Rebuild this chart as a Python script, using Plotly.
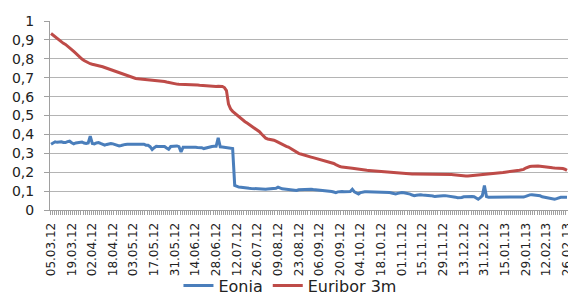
import pandas as pd
import plotly.graph_objects as go

# TARGET business days from 05.03.2012 (categories)
holidays = ["2012-04-06", "2012-04-09", "2012-05-01", "2012-12-25", "2012-12-26", "2013-01-01"]
days = [d for d in pd.bdate_range("2012-03-05", "2013-03-01") if d.strftime("%Y-%m-%d") not in holidays]
dates = [d.strftime("%d.%m.%y") for d in days][:251]

tick_labels = ["05.03.12", "19.03.12", "02.04.12", "18.04.12", "03.05.12", "17.05.12", "31.05.12",
               "14.06.12", "28.06.12", "12.07.12", "26.07.12", "09.08.12", "23.08.12", "06.09.12",
               "20.09.12", "04.10.12", "18.10.12", "01.11.12", "15.11.12", "29.11.12", "13.12.12",
               "31.12.12", "15.01.13", "29.01.13", "12.02.13", "26.02.13"]

eonia = [
    0.348, 0.355, 0.361, 0.358, 0.360, 0.361, 0.357, 0.357, 0.362, 0.364,
    0.356, 0.350, 0.355, 0.358, 0.361, 0.360, 0.354, 0.352, 0.355, 0.391,
    0.352, 0.350, 0.355, 0.357, 0.352, 0.348, 0.343, 0.347, 0.350, 0.352,
    0.350, 0.347, 0.343, 0.339, 0.341, 0.345, 0.347, 0.348, 0.348, 0.347,
    0.348, 0.349, 0.347, 0.349, 0.348, 0.348, 0.343, 0.343, 0.335, 0.320,
    0.330, 0.337, 0.336, 0.337, 0.335, 0.336, 0.328, 0.321, 0.336, 0.337,
    0.338, 0.339, 0.335, 0.307, 0.332, 0.333, 0.332, 0.332, 0.332, 0.333,
    0.332, 0.331, 0.332, 0.330, 0.325, 0.328, 0.333, 0.336, 0.336, 0.337,
    0.337, 0.382, 0.334, 0.333, 0.332, 0.332, 0.331, 0.328, 0.325, 0.130,
    0.125, 0.121, 0.120, 0.118, 0.117, 0.116, 0.115, 0.114, 0.113, 0.112,
    0.112, 0.111, 0.110, 0.110, 0.110, 0.111, 0.112, 0.112, 0.112, 0.115,
    0.121, 0.116, 0.112, 0.111, 0.110, 0.109, 0.108, 0.106, 0.104, 0.103,
    0.107, 0.108, 0.109, 0.110, 0.111, 0.112, 0.110, 0.108, 0.107, 0.106,
    0.106, 0.105, 0.104, 0.103, 0.103, 0.102, 0.098, 0.095, 0.092, 0.096,
    0.099, 0.098, 0.097, 0.097, 0.097, 0.098, 0.110, 0.096, 0.090, 0.085,
    0.092, 0.096, 0.096, 0.096, 0.096, 0.096, 0.096, 0.096, 0.096, 0.096,
    0.095, 0.094, 0.093, 0.092, 0.092, 0.090, 0.088, 0.085, 0.088, 0.092,
    0.092, 0.091, 0.090, 0.089, 0.084, 0.079, 0.076, 0.078, 0.081, 0.080,
    0.079, 0.079, 0.078, 0.078, 0.076, 0.074, 0.071, 0.073, 0.075, 0.076,
    0.076, 0.076, 0.075, 0.074, 0.073, 0.071, 0.068, 0.065, 0.064, 0.066,
    0.070, 0.071, 0.071, 0.071, 0.071, 0.070, 0.062, 0.057, 0.065, 0.076,
    0.129, 0.071, 0.068, 0.068, 0.067, 0.067, 0.068, 0.068, 0.069, 0.069,
    0.069, 0.069, 0.070, 0.070, 0.070, 0.070, 0.070, 0.069, 0.068, 0.069,
    0.072, 0.077, 0.080, 0.081, 0.080, 0.078, 0.076, 0.075, 0.070, 0.068,
    0.067, 0.066, 0.062, 0.058, 0.057, 0.060, 0.065, 0.067, 0.067, 0.066, 0.067,
]

euribor_3m = [
    0.934, 0.925, 0.916, 0.906, 0.897, 0.889, 0.882, 0.876, 0.868, 0.859,
    0.849, 0.839, 0.828, 0.817, 0.806, 0.799, 0.791, 0.784, 0.779, 0.774,
    0.771, 0.769, 0.767, 0.764, 0.761, 0.758, 0.754, 0.750, 0.746, 0.742,
    0.738, 0.734, 0.730, 0.726, 0.722, 0.719, 0.714, 0.709, 0.704, 0.700,
    0.698, 0.696, 0.695, 0.694, 0.693, 0.693, 0.692, 0.691, 0.690, 0.689,
    0.688, 0.687, 0.686, 0.684, 0.682, 0.680, 0.677, 0.674, 0.671, 0.668,
    0.667, 0.666, 0.665, 0.665, 0.664, 0.664, 0.664, 0.663, 0.663, 0.663,
    0.662, 0.661, 0.660, 0.659, 0.658, 0.657, 0.656, 0.655, 0.655, 0.655,
    0.654, 0.655, 0.656, 0.654, 0.648, 0.632, 0.560, 0.535, 0.522, 0.512,
    0.503, 0.495, 0.486, 0.476, 0.467, 0.460, 0.453, 0.446, 0.438, 0.430,
    0.423, 0.414, 0.402, 0.390, 0.380, 0.376, 0.374, 0.372, 0.369, 0.364,
    0.358, 0.352, 0.346, 0.341, 0.337, 0.333, 0.326, 0.318, 0.310, 0.303,
    0.300, 0.296, 0.292, 0.289, 0.286, 0.283, 0.280, 0.277, 0.274, 0.271,
    0.269, 0.266, 0.263, 0.260, 0.257, 0.254, 0.251, 0.246, 0.240, 0.234,
    0.230, 0.227, 0.225, 0.224, 0.223, 0.222, 0.221, 0.219, 0.217, 0.215,
    0.214, 0.213, 0.211, 0.210, 0.209, 0.208, 0.207, 0.206, 0.205, 0.205,
    0.204, 0.203, 0.202, 0.201, 0.200, 0.199, 0.197, 0.196, 0.195, 0.194,
    0.194, 0.193, 0.193, 0.192, 0.192, 0.191, 0.191, 0.191, 0.190, 0.190,
    0.190, 0.190, 0.189, 0.189, 0.189, 0.189, 0.190, 0.190, 0.191, 0.191,
    0.191, 0.191, 0.190, 0.189, 0.188, 0.187, 0.186, 0.184, 0.181, 0.179,
    0.180, 0.180, 0.180, 0.181, 0.181, 0.182, 0.182, 0.183, 0.184, 0.185,
    0.186, 0.186, 0.187, 0.188, 0.189, 0.191, 0.193, 0.195, 0.196, 0.198,
    0.200, 0.202, 0.204, 0.206, 0.207, 0.208, 0.209, 0.210, 0.211, 0.215,
    0.222, 0.227, 0.230, 0.232, 0.233, 0.233, 0.233, 0.232, 0.230, 0.228,
    0.226, 0.225, 0.224, 0.223, 0.222, 0.222, 0.221, 0.220, 0.219, 0.216, 0.210,
]

title_text = "Денежен пазар в ЕС (%)"

n = len(dates)
xidx = list(range(n))
tickvals = [dates.index(t) for t in tick_labels if t in dates]
ticktext = [t for t in tick_labels if t in dates]

fig = go.Figure()
fig.add_trace(go.Scatter(x=xidx, y=eonia[:n], mode="lines", name="Eonia",
                         line=dict(color="#4a7ebb", width=3), customdata=dates))
fig.add_trace(go.Scatter(x=xidx, y=euribor_3m[:n], mode="lines", name="Euribor 3m",
                         line=dict(color="#be4b48", width=3), customdata=dates))

grid = "#b4b4b4"
fig.update_layout(
    width=568, height=303,
    margin=dict(l=50, r=0, t=21, b=93, autoexpand=False),
    paper_bgcolor="white", plot_bgcolor="white",
    separators=", ",
    font=dict(family="DejaVu Sans", color="#222"),
    showlegend=True,
    legend=dict(orientation="h", x=0.248, xanchor="left", y=-0.31, yanchor="top",
                font=dict(size=16, family="DejaVu Sans", color="#222"),
                bgcolor="rgba(0,0,0,0)", tracegroupgap=0),
    annotations=[dict(text="<b>" + title_text + "</b>", xref="paper", yref="paper",
                      x=0.458, y=1.105, xanchor="center", yanchor="bottom", showarrow=False,
                      font=dict(size=16, family="DejaVu Sans", color="#000"))],
)
fig.update_xaxes(
    range=[-0.5, n - 0.5], tickmode="array", tickvals=tickvals, ticktext=ticktext,
    tickangle=-90, tickfont=dict(size=12, family="DejaVu Sans", color="#222"),
    showline=True, linecolor="#a0a0a0", linewidth=1, showgrid=False, zeroline=False,
    ticks="", ticklabelstandoff=7, ticklabeloverflow="allow", automargin=False,
    minor=dict(ticks="outside", ticklen=4, tickcolor="#a0a0a0", tickmode="linear",
               tick0=0.5, dtick=1, showgrid=False),
)
fig.update_yaxes(
    range=[0, 1], dtick=0.1, tick0=0, showgrid=True, gridcolor=grid, gridwidth=1,
    showline=True, linecolor="#a0a0a0", linewidth=1, zeroline=False, automargin=False,
    ticks="outside", ticklen=5, tickcolor="#a0a0a0", ticklabelstandoff=7,
    tickfont=dict(size=14, family="DejaVu Sans", color="#222"),
)
fig.write_html("out.html", config={"displayModeBar": False},
               post_script="document.body.style.margin='0';document.body.style.overflow='hidden';")
